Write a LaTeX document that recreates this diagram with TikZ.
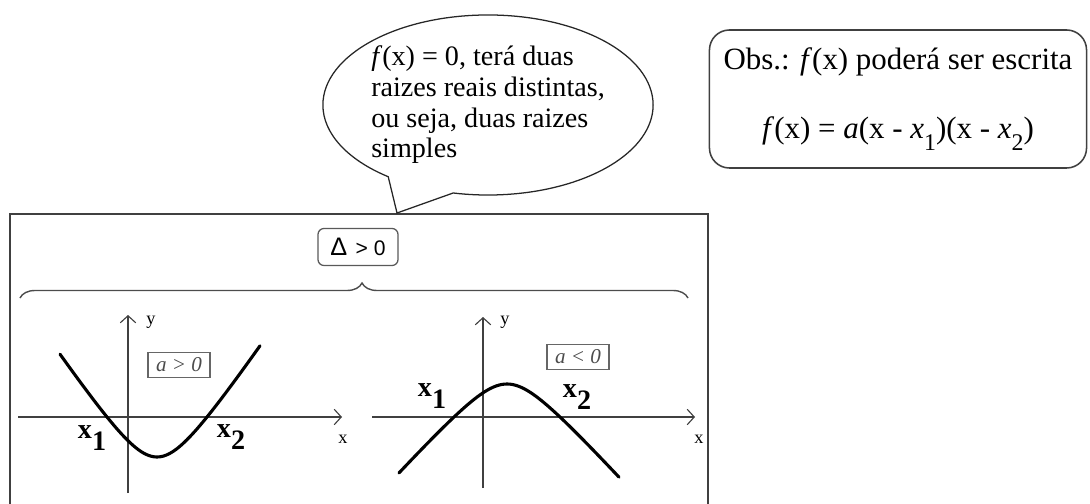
\documentclass[tikz,border=0pt]{standalone}
\usepackage{fontspec}
\setmainfont{Liberation Serif}
\newfontfamily\deltafont{Liberation Sans}
\usetikzlibrary{shapes.callouts, decorations.pathreplacing, arrows.meta}
\newcommand{\lowidx}[1]{\raisebox{-0.4em}{#1}}

\begin{document}
\begin{tikzpicture}[x=0.025cm, y=-0.025cm]
\tikzstyle{balloon} = [ellipse callout, draw=black!85, line width=0.9pt, minimum width=8.175cm, minimum height=4.5cm, inner xsep=0pt, inner ysep=0pt, align=left, callout pointer arc=25, font=\fontsize{20}{21.8}\selectfont]
\tikzstyle{obsbox} = [rectangle, draw=black!75, line width=1.1pt, rounded corners=0.5cm, minimum width=9.425cm, minimum height=3.45cm, align=center, font=\fontsize{22}{25}\selectfont]
\tikzstyle{signbox} = [rectangle, draw=black!65, line width=0.9pt, rounded corners=0.15cm, minimum width=2cm, minimum height=0.925cm]
\tikzstyle{casebox} = [rectangle, draw=black!60, line width=0.8pt, inner sep=1.5pt, minimum width=1.55cm, minimum height=0.62cm, text=black!70, font=\fontsize{15}{15}\selectfont\itshape]
\tikzstyle{frame} = [draw=black!75, line width=1.2pt]
\tikzstyle{axis} = [draw=black!75, line width=0.8pt, -{Straight Barb[length=5pt, width=11pt]}]
\tikzstyle{curve} = [line width=2.2pt, line cap=round]
\tikzstyle{root} = [font=\fontsize{20}{20}\selectfont\bfseries]
\tikzstyle{axlabel} = [font=\fontsize{13}{13}\selectfont]

\useasboundingbox (0,0) rectangle (1090,504);

% outer frame and brace
\draw[frame] (10,504) -- (10,214) -- (708,214) -- (708,504);
\node[signbox] (delta) at (358,247) {{\deltafont\fontsize{18}{18}\selectfont Δ}\,\, {\deltafont\fontsize{15}{15}\selectfont > 0}};
\draw[draw=black!70, line width=1pt, decorate, decoration={brace, amplitude=0.375cm, aspect=0.512}] (20,298) -- (688,298);

% speech balloon
\coordinate (tip) at (397,213);
\node[balloon, callout absolute pointer=(tip)] (note) at (488,105) {\textit{f}(x) = 0, terá duas\\ raizes reais distintas,\\ ou seja, duas raizes\\ simples};

% remark
\node[obsbox] (obs) at (898,99) {Obs.: \textit{f}(x) poderá ser escrita\\[24pt]
  \textit{f}(x) = \textit{a}(x - \textit{x}\lowidx{\fontsize{17}{17}\selectfont 1})(x - \textit{x}\lowidx{\fontsize{17}{17}\selectfont 2})};

% case a > 0
\draw[axis] (18,417) -- (342,417);
\draw[axis] (128,493) -- (128,315);
\node[axlabel] (yL) at (151,322) {y};
\node[axlabel] (xL) at (343,439) {x};
\node[casebox] (up) at (179,365) {a > 0};
\draw[curve] plot[domain=-97:103, samples=80] ({157+\x}, {504.6 - 10*sqrt(22.66 + 0.02164*\x*\x)});
\node[root] (r1L) at (92,438) {x\lowidx{1}};
\node[root] (r2L) at (231,437) {x\lowidx{2}};

% case a < 0
\draw[axis] (372,417) -- (695,417);
\draw[axis] (483,488) -- (483,317);
\node[axlabel] (yR) at (505,322) {y};
\node[axlabel] (xR) at (699,439) {x};
\node[casebox] (down) at (578,357) {a < 0};
\draw[curve] plot[domain=-108:112, samples=80] ({507+\x}, {348.9 + 10*sqrt(12.32 + 0.012125*\x*\x)});
\node[root] (r1R) at (432,396) {x\lowidx{1}};
\node[root] (r2R) at (577,397) {x\lowidx{2}};
\end{tikzpicture}
\end{document}
